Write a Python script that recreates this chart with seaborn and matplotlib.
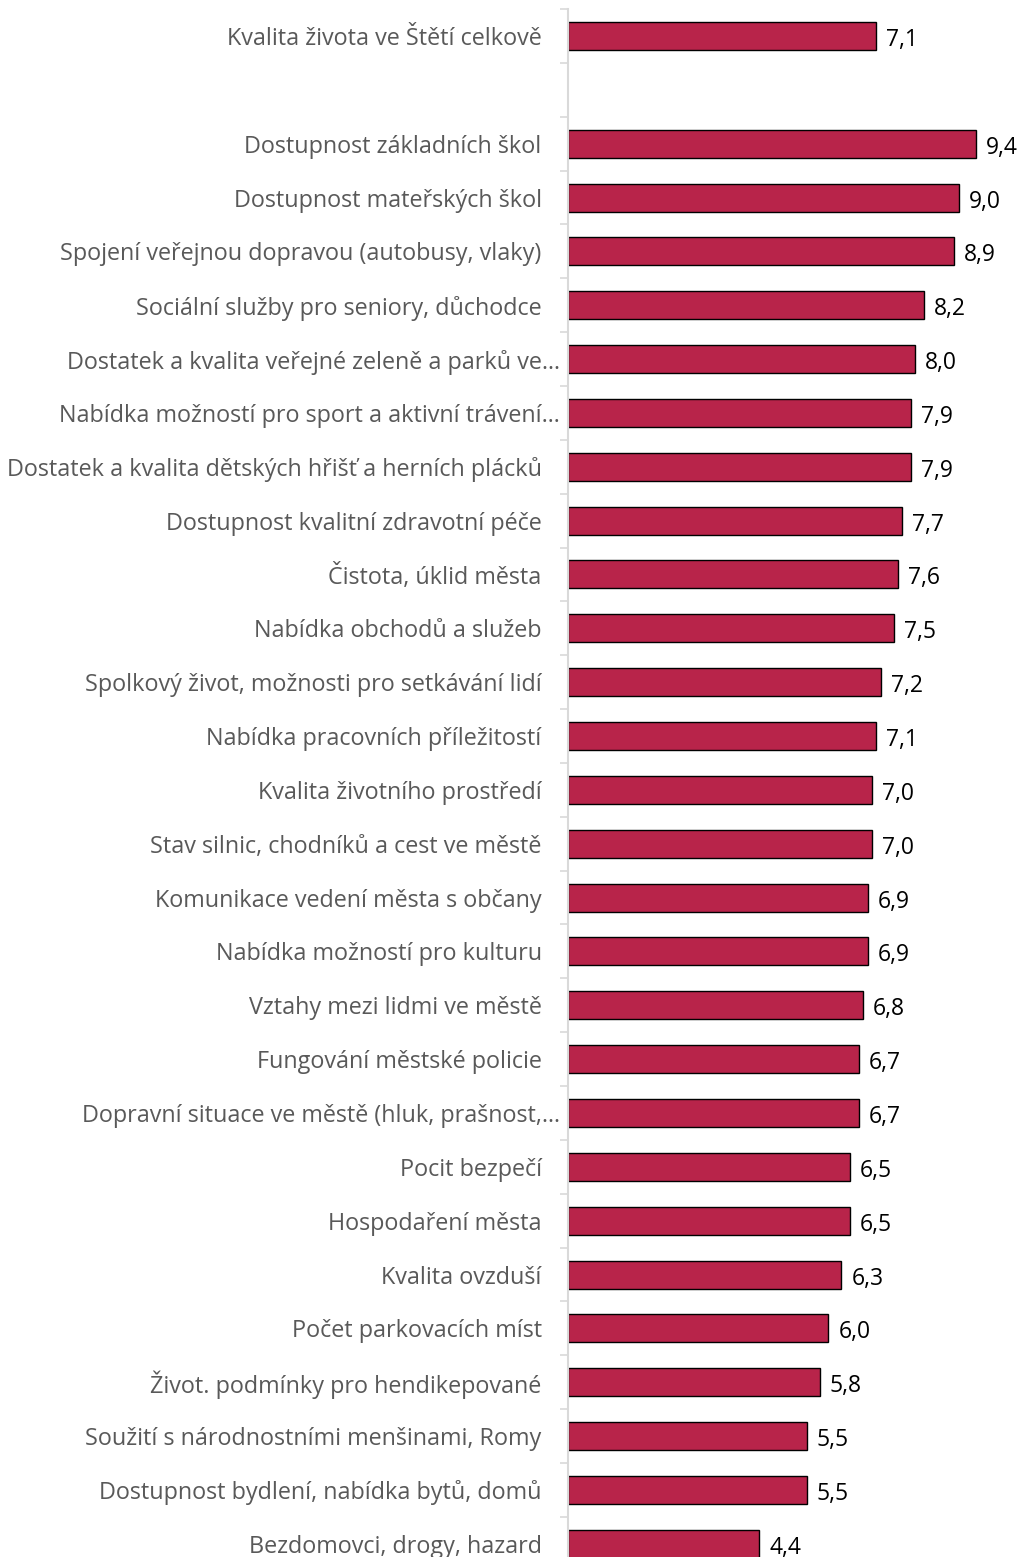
import pandas as pd
import matplotlib.pyplot as plt
import matplotlib.transforms as mtransforms
import seaborn as sns

# Data
labels = [
    "Kvalita života ve Štětí celkově",
    "Dostupnost základních škol",
    "Dostupnost mateřských škol",
    "Spojení veřejnou dopravou (autobusy, vlaky)",
    "Sociální služby pro seniory, důchodce",
    "Dostatek a kvalita veřejné zeleně a parků ve…",
    "Nabídka možností pro sport a aktivní trávení…",
    "Dostatek a kvalita dětských hřišť a herních plácků",
    "Dostupnost kvalitní zdravotní péče",
    "Čistota, úklid města",
    "Nabídka obchodů a služeb",
    "Spolkový život, možnosti pro setkávání lidí",
    "Nabídka pracovních příležitostí",
    "Kvalita životního prostředí",
    "Stav silnic, chodníků a cest ve městě",
    "Komunikace vedení města s občany",
    "Nabídka možností pro kulturu",
    "Vztahy mezi lidmi ve městě",
    "Fungování městské policie",
    "Dopravní situace ve městě (hluk, prašnost,…",
    "Pocit bezpečí",
    "Hospodaření města",
    "Kvalita ovzduší",
    "Počet parkovacích míst",
    "Život. podmínky pro hendikepované",
    "Soužití s národnostními menšinami, Romy",
    "Dostupnost bydlení, nabídka bytů, domů",
    "Bezdomovci, drogy, hazard",
]
scores = [7.1, 9.4, 9.0, 8.9, 8.2, 8.0, 7.9, 7.9, 7.7, 7.6, 7.5, 7.2, 7.1, 7.0,
          7.0, 6.9, 6.9, 6.8, 6.7, 6.7, 6.5, 6.5, 6.3, 6.0, 5.8, 5.5, 5.5, 4.4]

df = pd.DataFrame({"label": labels, "score": scores})
# empty slot between the overall rating and the individual items
order = [labels[0], " "] + labels[1:]

sns.set_style("white")
plt.rcParams["font.family"] = ["Open Sans", "DejaVu Sans"]

fig = plt.figure(figsize=(10.22, 15.57), dpi=100)
ax = fig.add_axes([0.5558, -0.0088, 0.4247, 1.003])

sns.barplot(data=df, x="score", y="label", order=order, orient="h",
            color="#B8244A", saturation=1, width=0.52,
            edgecolor="black", linewidth=1.0, ax=ax)

ax.set_xlim(0, 10)
ax.set_ylim(len(order) - 0.5, -0.5)
ax.set_xlabel("")
ax.set_ylabel("")
ax.set_xticks([])

# category labels
ax.tick_params(axis="y", which="major", length=0, pad=19,
               labelsize=16.8, labelcolor="#595959")
# truncated labels reach further right, as in the original
shift = mtransforms.ScaledTranslation(18 / 100, 0, fig.dpi_scale_trans)
for t in ax.get_yticklabels():
    if t.get_text().endswith("…"):
        t.set_transform(t.get_transform() + shift)

# tick marks between categories
ax.set_yticks([k - 0.5 for k in range(len(order) + 1)], minor=True)
ax.tick_params(axis="y", which="minor", left=True, length=6, width=1.2,
               color="#D9D9D9")

for s in ["top", "right", "bottom"]:
    ax.spines[s].set_visible(False)
ax.spines["left"].set_color("#D9D9D9")
ax.spines["left"].set_linewidth(1.5)

# value labels with decimal comma
for lab, val in zip(labels, scores):
    ax.annotate(f"{val:.1f}".replace(".", ","), xy=(val, order.index(lab)),
                xytext=(10, -4), textcoords="offset pixels",
                va="center", ha="left", fontsize=16.5, color="black")

fig.savefig("out.png", dpi=100)
